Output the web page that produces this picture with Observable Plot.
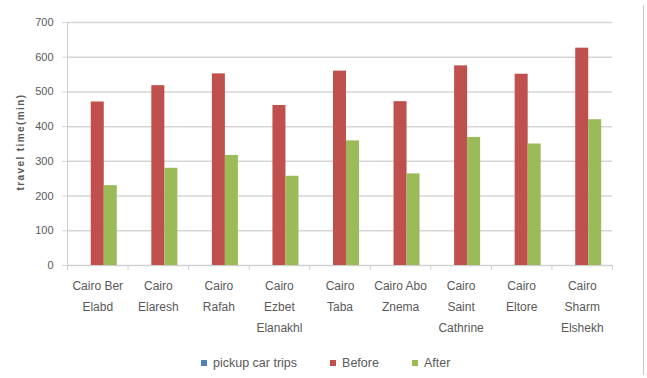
<!DOCTYPE html>
<html>
<head>
<meta charset="utf-8">
<script src="https://cdn.jsdelivr.net/npm/d3@7"></script>
<script src="https://cdn.jsdelivr.net/npm/@observablehq/plot@0.6"></script>
<style>
  html, body { margin: 0; padding: 0; background: #fff; }
  #chart {
    position: relative; width: 647px; height: 378px; overflow: hidden;
    font-family: "Liberation Sans", Arial, sans-serif;
  }
  #chart .edge {
    position: absolute; left: 643px; top: 5px; width: 1px; height: 370px; background: #c8c8c8;
  }
  /* the y-axis title is the only text mark */
  #chart svg g[aria-label="text"] text { letter-spacing: 1.4px; }
  #legend {
    position: absolute; left: 201px; top: 356px;
    display: flex; gap: 33px; align-items: center;
    font-size: 12.5px; color: #595959;
  }
  #legend .item { display: flex; align-items: center; gap: 6px; }
  #legend .sw { width: 6px; height: 6px; display: inline-block; }
</style>
</head>
<body>
<div id="chart"><div class="edge"></div></div>
<script>
// Routes (categories) and their multi-line axis labels
const routes = [
  "Cairo Ber Elabd", "Cairo Elaresh", "Cairo Rafah", "Cairo Ezbet Elanakhl",
  "Cairo Taba", "Cairo Abo Znema", "Cairo Saint Cathrine", "Cairo Eltore", "Cairo Sharm Elshekh"
];
const routeLabels = [
  "Cairo Ber\nElabd", "Cairo\nElaresh", "Cairo\nRafah", "Cairo\nEzbet\nElanakhl",
  "Cairo\nTaba", "Cairo Abo\nZnema", "Cairo\nSaint\nCathrine", "Cairo\nEltore", "Cairo\nSharm\nElshekh"
];

// Travel time in minutes
const before = [471, 518, 552, 461, 560, 472, 575, 551, 626];
const after  = [230, 280, 317, 257, 359, 264, 369, 350, 420];

// Series (the first one has no bars but keeps its slot in each group)
const seriesNames  = ["pickup car trips", "Before", "After"];
const seriesColors = ["#4F81BD", "#C0504D", "#9BBB59"];

const yTicks = [0, 100, 200, 300, 400, 500, 600, 700];
const yTitle = "travel time(min)";

// Layout
const W = 647, H = 345;
const mL = 67, mR = 35, mT = 22, mB = 80;
const step = (W - mL - mR) / routes.length;
const barW = 13;
// inset for the bar of series k within a 3-bar group centred in its band
const slot = k => {
  const left = step / 2 - 1.5 * barW + k * barW;
  return {insetLeft: left, insetRight: step - left - barW};
};

const chart = Plot.plot({
  width: W, height: H,
  marginLeft: mL, marginRight: mR, marginTop: mT, marginBottom: mB,
  style: {fontFamily: "'Liberation Sans', Arial, sans-serif", fontSize: "11px", color: "#595959", background: "white"},
  x: {type: "band", domain: routes, padding: 0, round: false},
  y: {domain: [0, 700]},
  marks: [
    Plot.gridY(yTicks, {stroke: "#d6d6d6", strokeOpacity: 1, strokeWidth: 1.5}),
    Plot.frame({anchor: "left", stroke: "#cfcfcf"}),
    Plot.frame({anchor: "bottom", stroke: "#cfcfcf"}),
    Plot.axisY(yTicks, {tickSize: 5, tickPadding: 9, stroke: "#d6d6d6", fill: "#595959", fontSize: 11, label: null}),
    Plot.text([yTitle], {frameAnchor: "left", textAnchor: "middle", rotate: -90, dx: -47, dy: -2, fontSize: 10, fontWeight: "bold", fill: "#595959"}),
    Plot.barY(before, {x: routes, y: before, fill: seriesColors[1], ...slot(1)}),
    Plot.barY(after,  {x: routes, y: after,  fill: seriesColors[2], ...slot(2)}),
    // tick marks on the category boundaries
    Plot.axisX({tickSize: 5, text: null, stroke: "#cfcfcf", dx: -step / 2, label: null}),
    Plot.axisX([routes[routes.length - 1]], {tickSize: 5, text: null, stroke: "#cfcfcf", dx: step / 2, label: null}),
    Plot.axisX({
      tickSize: 0, tickPadding: 10, label: null,
      tickFormat: d => routeLabels[routes.indexOf(d)],
      fontSize: 12, lineHeight: 1.75, fill: "#595959"
    })
  ]
});
chart.style.position = "absolute";
chart.style.left = "0px";
chart.style.top = "0px";
const host = document.getElementById("chart");
host.prepend(chart);

// Legend
const legend = document.createElement("div");
legend.id = "legend";
seriesNames.forEach((name, i) => {
  const item = document.createElement("div");
  item.className = "item";
  const sw = document.createElement("span");
  sw.className = "sw";
  sw.style.background = seriesColors[i];
  const label = document.createElement("span");
  label.textContent = name;
  item.append(sw, label);
  legend.append(item);
});
host.append(legend);
</script>
</body>
</html>
